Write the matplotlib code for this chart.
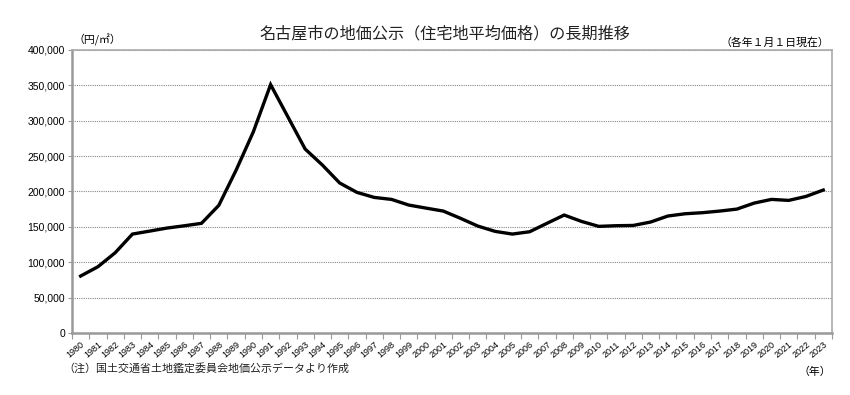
import matplotlib.pyplot as plt
from matplotlib.ticker import FuncFormatter, FixedLocator

plt.rcParams['font.family'] = ['Liberation Sans', 'Noto Sans CJK JP', 'DejaVu Sans']

years = list(range(1980, 2024))
# 住宅地平均価格（円/㎡）
prices = [80500, 93600, 113400, 139800, 144000, 148300, 151500, 155000, 180400, 230000,
          284300, 351000, 305500, 260000, 237300, 212000, 198700, 191600, 188800, 180800,
          176500, 172300, 162000, 151100, 143600, 139800, 143100, 155000, 166700, 157700,
          150700, 151600, 152000, 156800, 165300, 168500, 170000, 172300, 175100, 183600,
          188800, 187400, 193000, 202000]
yticks = [0, 50000, 100000, 150000, 200000, 250000, 300000, 350000, 400000]

fig = plt.figure(figsize=(8.5, 3.95), dpi=100)
ax = fig.add_axes([0.0847, 0.157, 0.894, 0.7165])

xs = list(range(len(years)))
ax.plot(xs, prices, color='black', linewidth=2.4, solid_joinstyle='miter', zorder=3)

ax.set_xlim(-0.5, len(years) - 0.5)
ax.set_ylim(0, 400000)
ax.set_yticks(yticks)
ax.yaxis.set_major_formatter(FuncFormatter(lambda v, p: f'{int(v):,}'))
ax.tick_params(axis='y', labelsize=7.5, length=3, color='#999999', pad=2)

# 目盛線は年の境目、ラベルは年の中央
ax.xaxis.set_major_locator(FixedLocator([i - 0.5 for i in range(len(years) + 1)]))
ax.xaxis.set_major_formatter(FuncFormatter(lambda v, p: ''))
ax.xaxis.set_minor_locator(FixedLocator(xs))
ax.set_xticklabels([str(y) for y in years], minor=True, rotation=40, ha='right',
                   rotation_mode='anchor', fontsize=6.5)
ax.tick_params(axis='x', which='major', length=4, color='#999999')
ax.tick_params(axis='x', which='minor', length=0, pad=5)

ax.grid(axis='y', linestyle=(0, (1, 1)), color='#888888', linewidth=0.8)
ax.set_axisbelow(True)
for side in ['left', 'bottom']:
    ax.spines[side].set_color('#999999')
    ax.spines[side].set_linewidth(1.8)
for side in ['right', 'top']:
    ax.spines[side].set_color('#aaaaaa')
    ax.spines[side].set_linewidth(1.2)

jp = ['Noto Sans CJK JP', 'DejaVu Sans']
fig.text(0.523, 0.915, '名古屋市の地価公示（住宅地平均価格）の長期推移', ha='center', va='center',
         fontsize=11.6, family=jp, color='#222222')
fig.text(0.086, 0.898, '（円/㎡）', ha='left', va='center', fontsize=7.8, family=jp)
fig.text(0.976, 0.893, '（各年１月１日現在）', ha='right', va='center', fontsize=7.8, family=jp)
fig.text(0.074, 0.068, '（注）国土交通省土地鑑定委員会地価公示データより作成', ha='left', va='center',
         fontsize=7.9, family=jp, color='#222222')
fig.text(0.978, 0.06, '（年）', ha='right', va='center', fontsize=7.8, family=jp)

fig.savefig('out.png', dpi=100)
